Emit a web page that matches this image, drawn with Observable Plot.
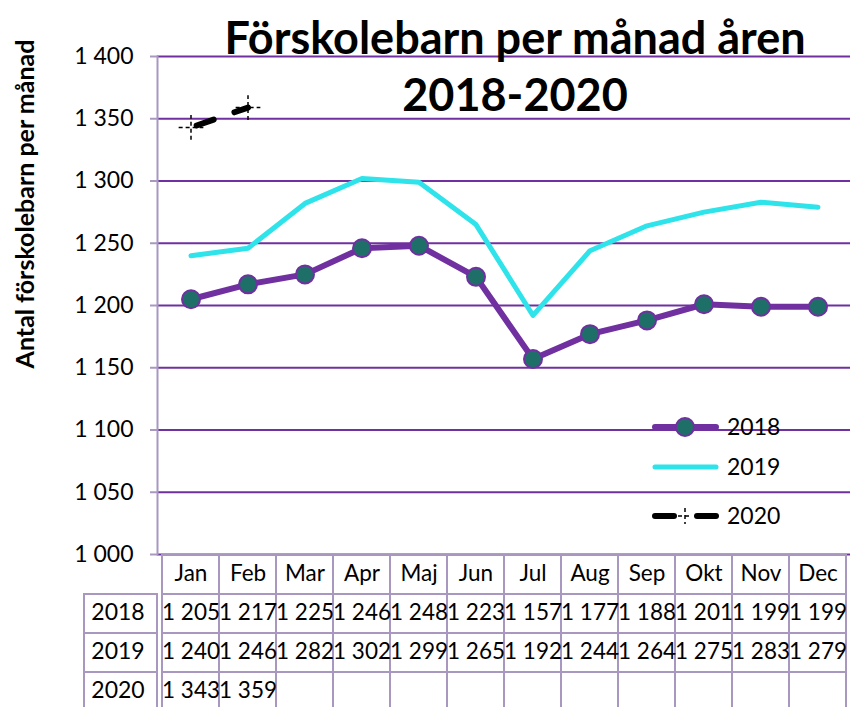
<!DOCTYPE html>
<html>
<head>
<meta charset="utf-8">
<script src="https://cdn.jsdelivr.net/npm/d3@7"></script>
<script src="https://cdn.jsdelivr.net/npm/@observablehq/plot@0.6"></script>
<style>
  html, body { margin: 0; padding: 0; background: #fff; }
  #wrap { position: relative; width: 850px; height: 707px; overflow: hidden; font-family: Lato, sans-serif; }
  #wrap svg { position: absolute; overflow: visible; background: transparent; max-width: none; }
</style>
</head>
<body>
<div id="wrap"></div>
<script>
const months = ["Jan","Feb","Mar","Apr","Maj","Jun","Jul","Aug","Sep","Okt","Nov","Dec"];
const v2018 = [1205,1217,1225,1246,1248,1223,1157,1177,1188,1201,1199,1199];
const v2019 = [1240,1246,1282,1302,1299,1265,1192,1244,1264,1275,1283,1279];
const v2020 = [1343,1359];
const years = ["2018","2019","2020"];
const yTicks = [1000,1050,1100,1150,1200,1250,1300,1350,1400];
const titleLines = ["Förskolebarn per månad åren", "2018-2020"];
const yTitle = "Antal förskolebarn per månad";

const purple = "#7030a0", teal = "#1f6f69", cyan = "#2ee3ea", axisCol = "#a898c0";
const FONT = "Lato, sans-serif";
const fmt = d3.formatLocale({decimal: ",", thousands: " ", grouping: [3], currency: ["", ""]}).format(",");

const series = [
  {year: "2018", values: v2018},
  {year: "2019", values: v2019},
  {year: "2020", values: v2020}
];
const rows = series.flatMap(s => s.values.map((v, i) => ({year: s.year, month: months[i], value: v})));
const r2018 = rows.filter(d => d.year === "2018");
const r2019 = rows.filter(d => d.year === "2019");
const r2020 = rows.filter(d => d.year === "2020");

const wrap = document.getElementById("wrap");

const chart = Plot.plot({
  width: 850, height: 555,
  marginTop: 56, marginBottom: 1, marginLeft: 157, marginRight: 0,
  style: {fontFamily: FONT, fontSize: "23px", color: "black", background: "transparent"},
  x: {type: "band", domain: months, padding: 0, axis: null},
  y: {domain: [1000, 1400], axis: null},
  marks: [
    Plot.ruleY(yTicks, {stroke: purple, strokeWidth: 2}),
    Plot.axisY({ticks: yTicks, label: null, tickSize: 7, tickPadding: 17, tickFormat: fmt, stroke: axisCol, strokeWidth: 2, fontSize: 23, fill: "black"}),
    Plot.frame({anchor: "left", stroke: axisCol, strokeWidth: 2}),
    Plot.line(r2019, {x: "month", y: "value", stroke: cyan, strokeWidth: 5}),
    Plot.line(r2018, {x: "month", y: "value", stroke: purple, strokeWidth: 6}),
    Plot.dot(r2018, {x: "month", y: "value", r: 9, fill: teal, stroke: purple, strokeWidth: 2}),
    Plot.line(r2020, {x: "month", y: "value", stroke: "black", strokeWidth: 6, strokeDasharray: "18 22", strokeDashoffset: -6}),
    Plot.dot(r2020, {x: "month", y: "value", symbol: "plus", r: 8, stroke: "black", strokeWidth: 1.5, strokeDasharray: "4 3"})
  ]
});
chart.style.left = "0px"; chart.style.top = "0px";
wrap.appendChild(chart);

const svg = d3.select(chart);
// title
const tg = svg.append("g").attr("font-family", FONT).attr("font-weight", "bold").attr("font-size", 45).attr("text-anchor", "middle").attr("fill", "black");
tg.append("text").attr("x", 515).attr("y", 54).text(titleLines[0]);
tg.append("text").attr("x", 515).attr("y", 111).text(titleLines[1]);
// y-axis title
svg.append("text").attr("transform", "translate(34,204) rotate(-90)")
  .attr("text-anchor", "middle").attr("font-family", FONT).attr("font-weight", "bold").attr("font-size", 25).attr("fill", "black")
  .text(yTitle);

// legend (inside plot area, right side)
const lg = svg.append("g").attr("font-family", FONT).attr("font-size", 23).attr("text-anchor", "start").attr("fill", "black");
const legendItems = [
  {label: "2018", y: 427},
  {label: "2019", y: 467},
  {label: "2020", y: 516}
];
legendItems.forEach((it, i) => {
  const g = lg.append("g").attr("transform", `translate(0,${it.y})`);
  if (i === 0) {
    g.append("line").attr("x1", 655).attr("x2", 716).attr("stroke", purple).attr("stroke-width", 6).attr("stroke-linecap", "round");
    g.append("circle").attr("cx", 685).attr("r", 9).attr("fill", teal).attr("stroke", purple).attr("stroke-width", 2);
  } else if (i === 1) {
    g.append("line").attr("x1", 655).attr("x2", 716).attr("stroke", cyan).attr("stroke-width", 5).attr("stroke-linecap", "round");
  } else {
    g.append("line").attr("x1", 655).attr("x2", 674).attr("stroke", "black").attr("stroke-width", 6).attr("stroke-linecap", "round");
    g.append("line").attr("x1", 697).attr("x2", 716).attr("stroke", "black").attr("stroke-width", 6).attr("stroke-linecap", "round");
    g.append("path").attr("d", "M678,0H692M685,-8V8").attr("stroke", "black").attr("stroke-width", 1.5).attr("stroke-dasharray", "4 3").attr("fill", "none");
  }
  g.append("text").attr("x", 727).attr("dy", "0.35em").text(it.label);
});

// data table
const tableRowsDomain = ["hdr", ...years];
const cells = [];
months.forEach(m => cells.push({row: "hdr", month: m, text: m}));
series.forEach(s => months.forEach((m, i) => cells.push({row: s.year, month: m, text: s.values[i] != null ? fmt(s.values[i]) : ""})));

const table = Plot.plot({
  width: 850, height: 153,
  marginTop: 0, marginBottom: 0, marginLeft: 157, marginRight: 0,
  style: {fontFamily: FONT, fontSize: "22px", color: "black", background: "transparent"},
  x: {type: "band", domain: months, padding: 0, axis: null},
  y: {type: "band", domain: tableRowsDomain, padding: 0, range: [0, 157], axis: null},
  marks: [
    Plot.cell(cells, {x: "month", y: "row", fill: "none", stroke: axisCol, strokeWidth: 2}),
    Plot.text(cells, {x: "month", y: "row", text: "text", fontSize: 22.5, fill: "black", dy: -1})
  ]
});
table.style.left = "0px"; table.style.top = "554px";
wrap.appendChild(table);

const labels = Plot.plot({
  width: 157, height: 153,
  marginTop: 0, marginBottom: 0, marginLeft: 84, marginRight: 0,
  style: {fontFamily: FONT, fontSize: "22px", color: "black", background: "transparent"},
  y: {type: "band", domain: tableRowsDomain, padding: 0, range: [0, 157], axis: null},
  marks: [
    Plot.cell(years, {y: d => d, fill: "none", stroke: axisCol, strokeWidth: 2}),
    Plot.text(years, {y: d => d, text: d => d, frameAnchor: "middle", fontSize: 23, fill: "black", dx: -3, dy: -1})
  ]
});
labels.style.left = "0px"; labels.style.top = "554px";
wrap.appendChild(labels);
</script>
</body>
</html>
